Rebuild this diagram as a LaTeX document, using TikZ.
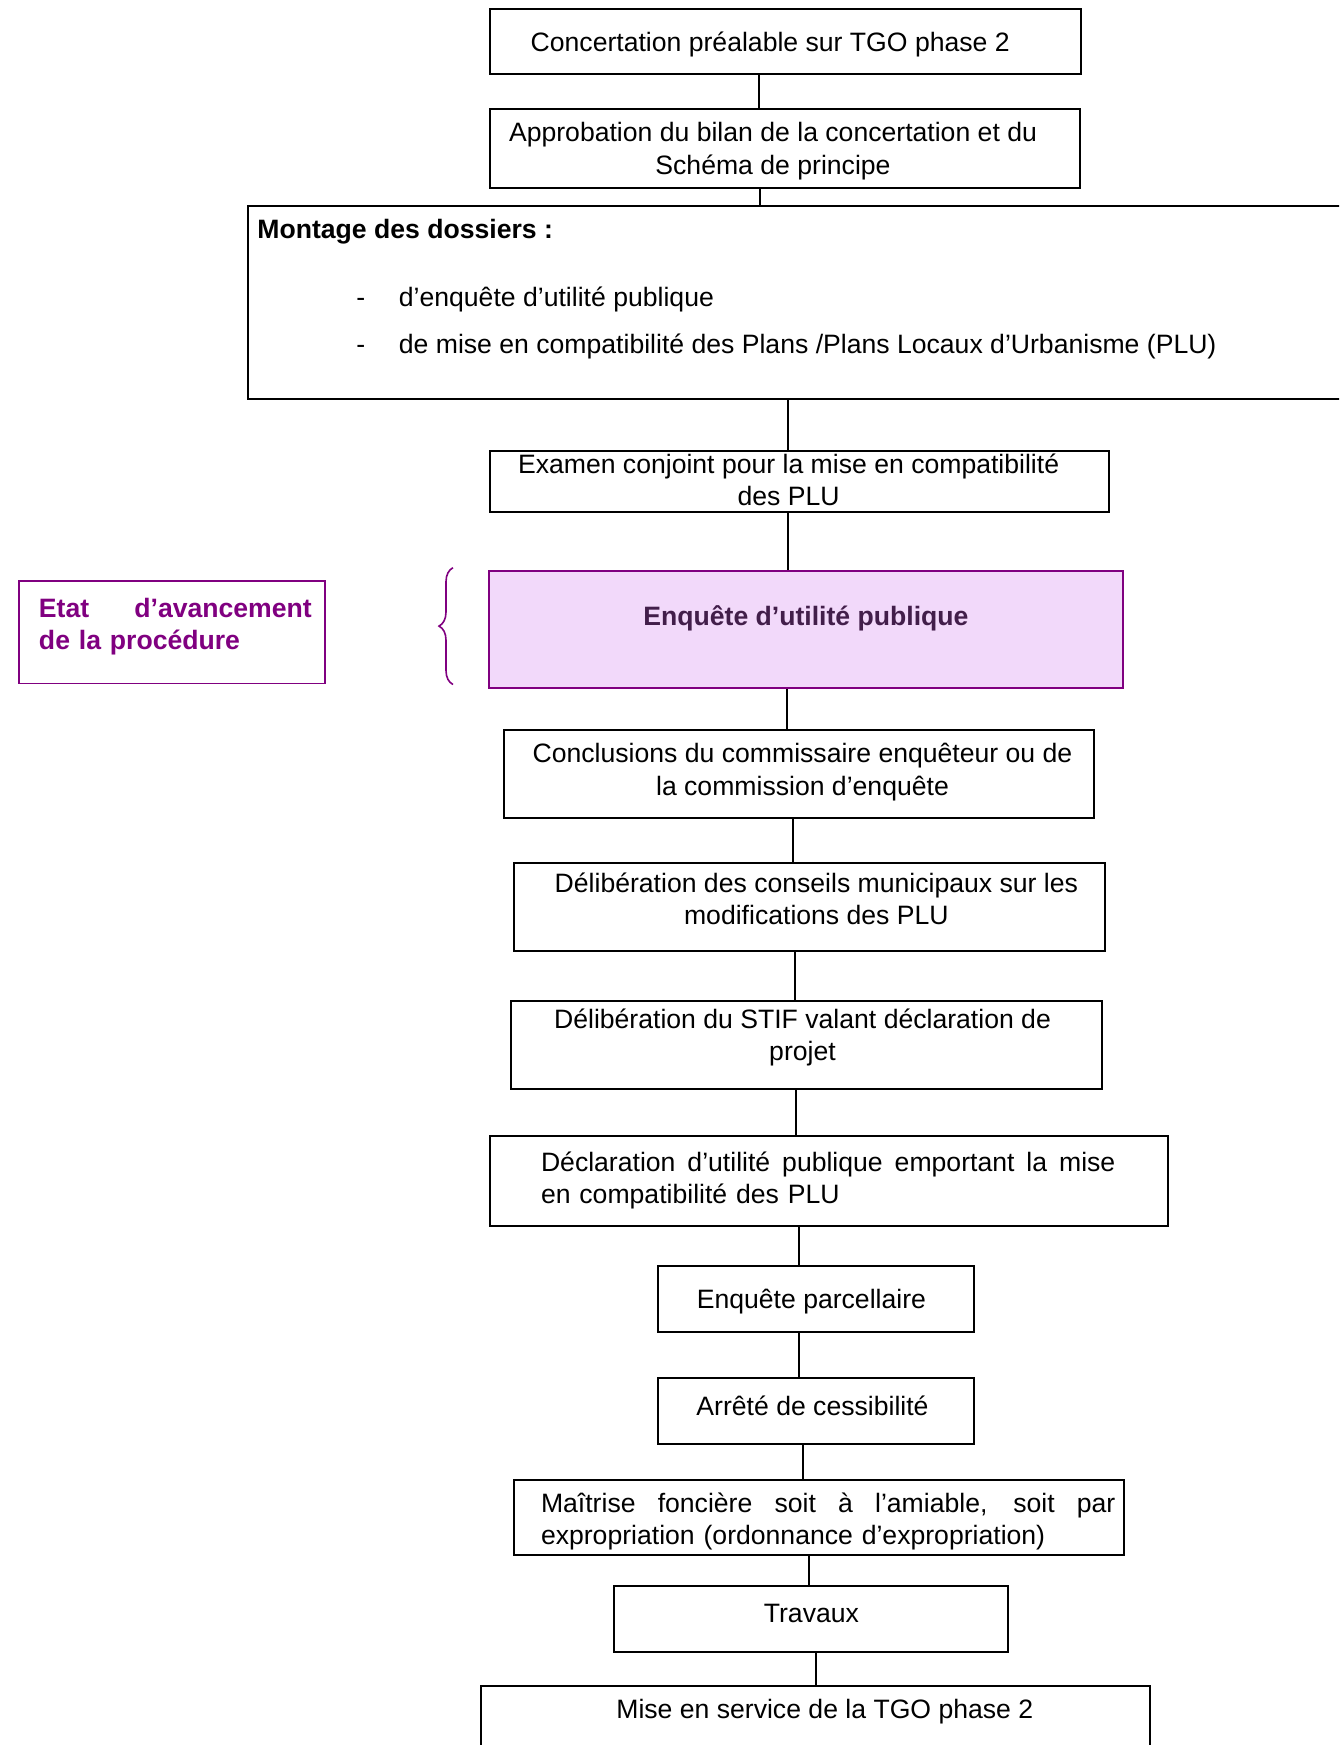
\documentclass[tikz,border=0pt]{standalone}
\usepackage{fontspec}
\setmainfont{Liberation Sans}
\usepackage{tikz}
\usepackage{xcolor}
\usetikzlibrary{
    decorations.pathreplacing,
    calc,
    positioning
}
\definecolor{plum}{RGB}{128,0,128}
\definecolor{lilac}{RGB}{242,217,250}
\definecolor{darkplum}{RGB}{66,30,74}
\newcommand{\fullline}[2]{\makebox[#1][s]{\spaceskip=.28em plus 1fil #2}}
\tikzset{
    box/.style={draw, line width=1pt, inner sep=0pt},
    txt/.style={inner sep=0pt, align=center, font=\fontsize{13.3}{16.1}\selectfont},
    link/.style={line width=1pt}
}

\begin{document}
\begin{tikzpicture}[x=0.5pt, y=-0.5pt]
                        \useasboundingbox (0,0) rectangle (1339,1745);
                        \clip (0,0) rectangle (1339,1745);
                        % boxes
                        \node[box, minimum width=295.6pt, minimum height=32.3pt] (b1) at (785.3, 41.2) {};
                        \node[box, minimum width=295pt, minimum height=39.5pt] (b2) at (784.7, 148.6) {};
                        \node[box, minimum width=575.9pt, minimum height=96.3pt] (b3) at (824.1, 302.2) {};
                        \node[box, minimum width=309.5pt, minimum height=30.6pt] (b4) at (799.2, 481.4) {};
                        \node[box, draw=plum, fill=lilac, minimum width=317.3pt, minimum height=58.5pt] (b5) at (805.9, 629.5) {};
                        \node[box, draw=plum, line width=0.8pt, minimum width=153pt, minimum height=51.2pt] (etat) at (172, 632.2) {};
                        \node[box, minimum width=295pt, minimum height=44pt] (b6) at (799.2, 774.2) {};
                        \node[box, minimum width=295.6pt, minimum height=44pt] (b7) at (809.8, 906.6) {};
                        \node[box, minimum width=295.5pt, minimum height=44pt] (b8) at (806.4, 1044.6) {};
                        \node[box, minimum width=339pt, minimum height=44.6pt] (b9) at (828.7, 1181) {};
                        \node[box, minimum width=158pt, minimum height=33.4pt] (b10) at (815.9, 1298.9) {};
                        \node[box, minimum width=158pt, minimum height=32.9pt] (b11) at (815.9, 1410.8) {};
                        \node[box, minimum width=305pt, minimum height=37.3pt] (b12) at (819.2, 1517.7) {};
                        \node[box, minimum width=197pt, minimum height=32.9pt] (b13) at (811.4, 1619) {};
                        \node[box, minimum width=334.5pt, minimum height=56.9pt] (b14) at (815.3, 1743) {};
                        % texts
                        \node[txt] (t1) at (770.2, 44.8) {Concertation préalable sur TGO phase 2};
                        \node[txt] (t2) at (773, 151.1) {Approbation du bilan de la concertation et du\\Schéma de principe};
                        \node[txt, anchor=west, font=\fontsize{13.3}{16.1}\selectfont\bfseries] (t3) at (257, 231.8) {Montage des dossiers :};
                        \node[txt, anchor=west] (t3a) at (356, 299.7) {\makebox[21.25pt][l]{-}d’enquête d’utilité publique};
                        \node[txt, anchor=west] (t3b) at (356, 346.4) {\makebox[21.25pt][l]{-}de mise en compatibilité des Plans /Plans Locaux d’Urbanisme (PLU)};
                        \node[txt] (t4) at (788.6, 479.6) {Examen conjoint pour la mise en compatibilité\\des PLU};
                        \node[txt, text=darkplum, font=\fontsize{13.3}{16.1}\selectfont\bfseries] (t5) at (805.9, 618) {Enquête d’utilité publique};
                        \node[txt, text=plum, align=left, text width=136.4pt, font=\fontsize{13.3}{16.1}\selectfont\bfseries] (te) at (175.4, 627) {\fullline{136.4pt}{Etat d’avancement}\\de la procédure};
                        \node[txt] (t6) at (802.5, 772) {Conclusions du commissaire enquêteur ou de\\la commission d’enquête};
                        \node[txt] (t7) at (816.4, 898.7) {Délibération des conseils municipaux sur les\\modifications des PLU};
                        \node[txt] (t8) at (802.5, 1037.1) {Délibération du STIF valant déclaration de\\projet};
                        \node[txt, align=left, text width=287.2pt] (t9) at (828.2, 1180.7) {\fullline{287.2pt}{Déclaration d’utilité publique emportant la mise}\\en compatibilité des PLU};
                        \node[txt] (t10) at (811.4, 1302) {Enquête parcellaire};
                        \node[txt] (t11) at (812.5, 1405.6) {Arrêté de cessibilité};
                        \node[txt, align=left, text width=287.2pt] (t12) at (828.2, 1521.8) {\fullline{287.2pt}{Maîtrise foncière soit à l’amiable, soit par}\\expropriation (ordonnance d’expropriation)};
                        \node[txt] (t13) at (811.4, 1613.2) {Travaux};
                        \node[txt] (t14) at (824.8, 1711.6) {Mise en service de la TGO phase 2};
                        % brace
                        \draw[plum, line width=0.8pt, decorate, decoration={brace, amplitude=7pt}]
                        (453, 684.5) -- (453, 567.7);
                        % links
                        \draw[link]
                        (b1.south -| 759.1,0) -- (b2.north -| 759.1,0)
                        (b2.south -| 760.2,0) -- (b3.north -| 760.2,0)
                        (b3.south -| 788,0) -- (b4.north -| 788,0)
                        (b4.south -| 788,0) -- (b5.north -| 788,0)
                        (b5.south -| 787,0) -- (b6.north -| 787,0)
                        (b6.south -| 792.5,0) -- (b7.north -| 792.5,0)
                        (b7.south -| 794.7,0) -- (b8.north -| 794.7,0)
                        (b8.south -| 795.8,0) -- (b9.north -| 795.8,0)
                        (b9.south -| 799.2,0) -- (b10.north -| 799.2,0)
                        (b10.south -| 799.2,0) -- (b11.north -| 799.2,0)
                        (b11.south -| 802.5,0) -- (b12.north -| 802.5,0)
                        (b12.south -| 809.2,0) -- (b13.north -| 809.2,0)
                        (b13.south -| 815.9,0) -- (b14.north -| 815.9,0);
                    \end{tikzpicture}
\end{document}
